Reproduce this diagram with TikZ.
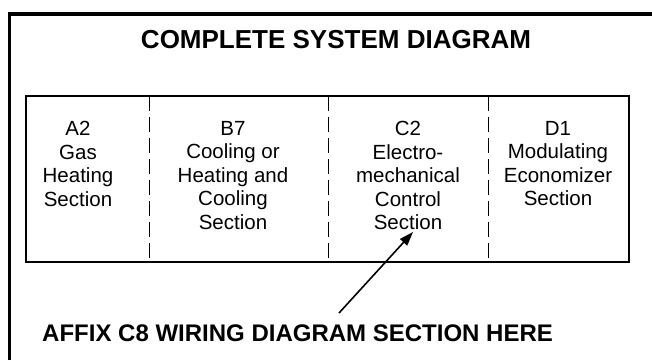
\documentclass[tikz,border=0pt]{standalone}
\usepackage{fontspec}
\setmainfont{Liberation Sans}
\usetikzlibrary{arrows.meta}
\begin{document}
\begin{tikzpicture}[x=1pt,y=-1pt,
  frameline/.style={line width=3.2pt},
  boxline/.style={line width=2pt},
  divline/.style={line width=1pt,dash pattern=on 15pt off 6pt},
  sect/.style={anchor=north,inner sep=0pt,align=center,font=\fontsize{20.5}{23.5}\selectfont},
  heading/.style={inner sep=0pt,font=\bfseries\fontsize{26}{30}\selectfont},
  pointer/.style={line width=1.6pt,-{Triangle[length=14pt,width=9.5pt]}}]
\useasboundingbox (0,0) rectangle (652,360);
% open outer frame
\draw[frameline] (9.5,360) -- (9.5,14) -- (652,14);
% sections box
\draw[boxline] (26,96) rectangle (629,262);
\draw[divline] (149,96) -- (149,262);
\draw[divline] (328,96) -- (328,262);
\draw[divline] (488,96) -- (488,262);
\node[heading,anchor=base] (title) at (336,48) {COMPLETE SYSTEM DIAGRAM};
\node[sect] (a2) at (78,121) {A2\\Gas\\Heating\\Section};
\node[sect] (b7) at (233,121) {B7\\Cooling or\\Heating and\\Cooling\\Section};
\node[sect] (c2) at (408,121) {C2\\Electro-\\mechanical\\Control\\Section};
\node[sect] (d1) at (558,121) {D1\\Modulating\\Economizer\\Section};
\node[heading,anchor=base west,font=\bfseries\fontsize{24}{28}\selectfont] (affix) at (42,341) {AFFIX C8 WIRING DIAGRAM SECTION HERE};
\coordinate (tail) at (339,313);
\coordinate (tip) at (413,232);
\draw[pointer] (tail) -- (tip);
\end{tikzpicture}
\end{document}
